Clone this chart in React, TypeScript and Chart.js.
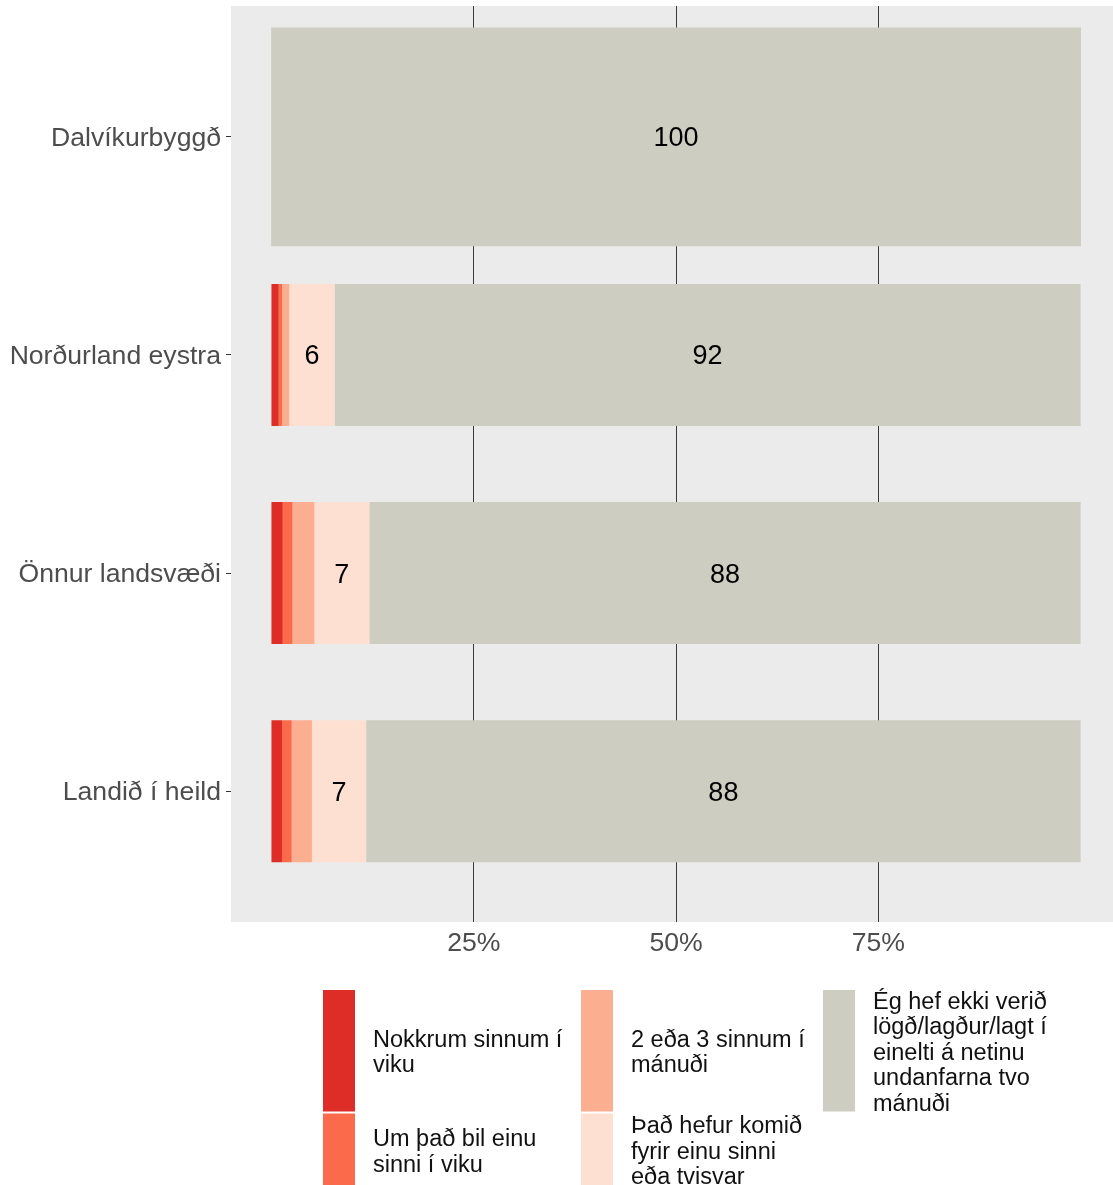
import React, { useEffect, useRef } from 'react';
import { Chart, registerables } from 'chart.js';

Chart.register(...registerables);

// ---------- data ----------
const categories = ['Dalvíkurbyggð', 'Norðurland eystra', 'Önnur landsvæði', 'Landið í heild'];

const seriesLabels = [
  'Nokkrum sinnum í viku',
  'Um það bil einu sinni í viku',
  '2 eða 3 sinnum í mánuði',
  'Það hefur komið fyrir einu sinni eða tvisvar',
  'Ég hef ekki verið lögð/lagður/lagt í einelti á netinu undanfarna tvo mánuði',
];

const seriesColors = ['#DE2D26', '#FB6A4A', '#FCAE91', '#FEE0D2', '#CECDC1'];

const nokkrumSinnum: (number | null)[] = [null, 0.9, 1.4, 1.3];
const einuSinniIViku: (number | null)[] = [null, 0.4, 1.2, 1.2];
const tvisvarIManudi: (number | null)[] = [null, 0.9, 2.7, 2.5];
const einuSinniEdaTvisvar: (number | null)[] = [null, 5.6, 6.8, 6.7];
const ekkiEinelti: (number | null)[] = [100, 92.2, 87.9, 88.3];

const xTicks = [25, 50, 75];

const FONT = '"Liberation Sans", Arial, Helvetica, sans-serif';

function wrapText(text: string, width: number): string[] {
  const words = text.split(' ');
  const lines: string[] = [];
  let cur = '';
  for (const w of words) {
    if (cur === '') cur = w;
    else if ((cur + ' ' + w).length <= width) cur = cur + ' ' + w;
    else {
      lines.push(cur);
      cur = w;
    }
  }
  if (cur) lines.push(cur);
  return lines;
}

const panelPlugin = {
  id: 'panelBg',
  beforeDraw(chart: any) {
    const { ctx, chartArea } = chart;
    ctx.save();
    ctx.fillStyle = '#FFFFFF';
    ctx.fillRect(0, 0, chart.width, chart.height);
    ctx.fillStyle = '#EBEBEB';
    ctx.fillRect(chartArea.left, chartArea.top, chartArea.right - chartArea.left, chartArea.bottom - chartArea.top);
    ctx.restore();
  },
};

const valueLabelPlugin = {
  id: 'valueLabels',
  afterDatasetsDraw(chart: any) {
    const ctx = chart.ctx;
    ctx.save();
    ctx.font = `27px ${FONT}`;
    ctx.fillStyle = '#000000';
    ctx.textAlign = 'center';
    ctx.textBaseline = 'middle';
    chart.data.datasets.forEach((ds: any, i: number) => {
      const meta = chart.getDatasetMeta(i);
      meta.data.forEach((el: any, j: number) => {
        const raw = ds.data[j] && ds.data[j].x;
        if (raw != null && raw >= 5) {
          const p = el.getProps(['x', 'base', 'y'], true);
          ctx.fillText(String(Math.round(raw)), (p.x + p.base) / 2, p.y + 2);
        }
      });
    });
    ctx.restore();
  },
};

const legendPlugin = {
  id: 'ggLegend',
  afterDraw(chart: any) {
    const ctx = chart.ctx;
    const colX = [323, 581, 823];
    const top = 990;
    const lineH = 25.5;
    const perLine = 24.3;
    const keyW = 32;
    const wrapped = seriesLabels.map((l) => wrapText(l, 18));
    const rowLines = [0, 1].map((r) =>
      Math.max(...wrapped.filter((_, i) => i % 2 === r).map((w) => w.length))
    );
    const rowTops: number[] = [];
    let y = top;
    rowLines.forEach((n) => {
      rowTops.push(y);
      y += n * perLine + 2;
    });
    ctx.save();
    ctx.font = `23.5px ${FONT}`;
    ctx.textAlign = 'left';
    ctx.textBaseline = 'middle';
    wrapped.forEach((lines, i) => {
      const col = Math.floor(i / 2);
      const row = i % 2;
      const h = rowLines[row] * perLine;
      const ky = rowTops[row];
      ctx.fillStyle = seriesColors[i];
      ctx.fillRect(colX[col], ky, keyW, h);
      ctx.fillStyle = '#111111';
      const c = ky + h / 2 + 2.5;
      lines.forEach((ln, k) => {
        ctx.fillText(ln, colX[col] + 50, c + (k - (lines.length - 1) / 2) * lineH);
      });
    });
    ctx.restore();
  },
};

export default function App() {
  const ref = useRef<HTMLCanvasElement>(null);

  useEffect(() => {
    const canvas = ref.current;
    if (!canvas) return;

    const toPoints = (arr: (number | null)[]) =>
      arr
        .map((v, i) => (v == null ? null : { x: v, y: i }))
        .filter((p) => p !== null);

    const narrow = 0.651;
    const seriesValues = [nokkrumSinnum, einuSinniIViku, tvisvarIManudi, einuSinniEdaTvisvar];

    const datasets: any[] = seriesValues.map((vals, k) => ({
      label: seriesLabels[k],
      data: toPoints(vals),
      backgroundColor: seriesColors[k],
      stack: 'a',
      barPercentage: narrow,
      categoryPercentage: 1,
      borderWidth: 0,
    }));
    // first category drawn with a full-width bar
    datasets.push({
      label: seriesLabels[4],
      data: toPoints(ekkiEinelti.map((v, i) => (i === 0 ? v : null))),
      backgroundColor: seriesColors[4],
      stack: 'a',
      barPercentage: 1,
      categoryPercentage: 1,
      borderWidth: 0,
    });
    datasets.push({
      label: seriesLabels[4],
      data: toPoints(ekkiEinelti.map((v, i) => (i === 0 ? null : v))),
      backgroundColor: seriesColors[4],
      stack: 'a',
      barPercentage: narrow,
      categoryPercentage: 1,
      borderWidth: 0,
    });

    const chart = new Chart(canvas, {
      type: 'bar',
      data: { datasets },
      plugins: [panelPlugin, valueLabelPlugin, legendPlugin],
      options: {
        indexAxis: 'y',
        animation: false,
        responsive: false,
        devicePixelRatio: 1,
        layout: { padding: { top: 6, left: 0, right: 0, bottom: 0 } },
        plugins: { legend: { display: false }, tooltip: { enabled: false } },
        scales: {
          x: {
            type: 'linear',
            stacked: true,
            min: -5,
            max: 104,
            position: 'bottom',
            afterBuildTicks: (s: any) => {
              s.ticks = xTicks.map((v) => ({ value: v }));
            },
            afterFit: (s: any) => {
              s.height = 263;
              s.paddingLeft = 0;
              s.paddingRight = 0;
            },
            grid: { color: '#3a3a3a', lineWidth: 1, drawTicks: false },
            border: { display: false },
            ticks: {
              callback: (v: any) => v + '%',
              color: '#4D4D4D',
              font: { family: FONT, size: 26.6 },
              padding: 6,
              maxRotation: 0,
              autoSkip: false,
            },
          },
          y: {
            type: 'linear',
            reverse: true,
            offset: false,
            min: -0.6,
            max: 3.6,
            afterBuildTicks: (s: any) => {
              s.ticks = categories.map((_, i) => ({ value: i }));
            },
            afterFit: (s: any) => {
              s.width = 231;
              s.paddingTop = 0;
              s.paddingBottom = 0;
            },
            grid: {
              offset: false,
              drawOnChartArea: false,
              drawTicks: true,
              tickLength: 5,
              color: '#333333',
              lineWidth: 1,
            },
            border: { display: false },
            ticks: {
              callback: (v: any) => categories[v as number],
              color: '#4D4D4D',
              font: { family: FONT, size: 26.6 },
              padding: 5,
              labelOffset: 2,
              autoSkip: false,
            },
          },
        },
      } as any,
    });

    return () => chart.destroy();
  }, []);

  return (
    <div style={{ position: 'absolute', left: 0, top: 0, width: 1113, height: 1185, background: '#fff' }}>
      <canvas ref={ref} width={1113} height={1185} style={{ display: 'block', width: 1113, height: 1185 }} />
    </div>
  );
}
